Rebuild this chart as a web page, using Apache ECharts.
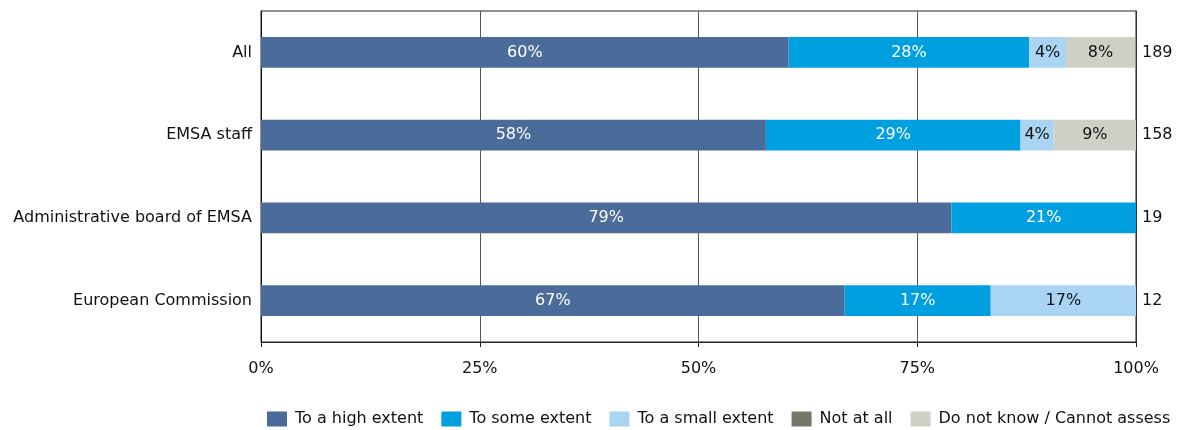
<!DOCTYPE html>
<html><head><meta charset="utf-8">
<script src="https://cdn.jsdelivr.net/npm/echarts@6/dist/echarts.min.js"></script>
<style>html,body{margin:0;padding:0;background:#fff}#c{width:1203px;height:430px}</style>
</head><body><div id="c"></div>
<script>
var categories = ['All', 'EMSA staff', 'Administrative board of EMSA', 'European Commission'];
var totals = ['189', '158', '19', '12'];
var seriesNames = ['To a high extent', 'To some extent', 'To a small extent', 'Not at all', 'Do not know / Cannot assess'];
var highExtent = [60.3, 57.7, 78.9, 66.7];
var someExtent = [27.5, 29.1, 21.1, 16.7];
var smallExtent = [4.2, 3.8, 0, 16.7];
var notAtAll = [0, 0, 0, 0];
var dontKnow = [7.9, 9.4, 0, 0];
var xTicks = ['0%', '25%', '50%', '75%', '100%'];

var colors = ['#4B6B9A', '#009FE0', '#A9D4F4', '#76766A', '#D0D0C6'];
var labelColors = ['#fff', '#fff', '#111', '#fff', '#111'];
var values = [highExtent, someExtent, smallExtent, notAtAll, dontKnow];
var FONT = 'DejaVu Sans';
var FS = 16;

var chart = echarts.init(document.getElementById('c'));
var series = seriesNames.map(function (n, i) {
  return {
    name: n, type: 'bar', stack: 'a', barWidth: '37%',
    data: values[i].slice().reverse(),
    itemStyle: { color: colors[i] },
    label: {
      show: true, position: 'inside', color: labelColors[i], fontFamily: FONT, fontSize: FS,
      formatter: function (p) { return p.value > 0 ? Math.round(p.value) + '%' : ''; }
    }
  };
});
chart.setOption({
  animation: false,
  textStyle: { fontFamily: FONT },
  grid: { left: 261, right: 67, top: 11, bottom: 88, show: true, borderColor: '#222', borderWidth: 1 },
  legend: {
    top: 411, left: 267, padding: 0, itemWidth: 20, itemHeight: 15, itemGap: 18,
    icon: 'rect', data: seriesNames,
    textStyle: { fontFamily: FONT, fontSize: FS, color: '#111', padding: [0, 0, 0, 3] }
  },
  xAxis: {
    type: 'value', min: 0, max: 100, interval: 25,
    axisLine: { show: true, lineStyle: { color: '#222' } },
    axisTick: { show: true, length: 5, lineStyle: { color: '#222' } },
    splitLine: { show: true, lineStyle: { color: '#555' } },
    axisLabel: {
      margin: 19, fontFamily: FONT, fontSize: FS, color: '#111',
      formatter: function (v) { return xTicks[Math.round(v / 25)]; }
    }
  },
  yAxis: [{
    type: 'category', data: categories.slice().reverse(),
    axisLine: { show: true, lineStyle: { color: '#111' } },
    axisTick: { show: false },
    axisLabel: { margin: 9, fontFamily: FONT, fontSize: FS, color: '#111' }
  }, {
    type: 'category', position: 'right', data: totals.slice().reverse(),
    axisLine: { show: true, lineStyle: { color: '#333' } },
    axisTick: { show: false },
    axisLabel: { margin: 6, fontFamily: FONT, fontSize: FS, color: '#111' }
  }],
  series: series
});
</script></body></html>
